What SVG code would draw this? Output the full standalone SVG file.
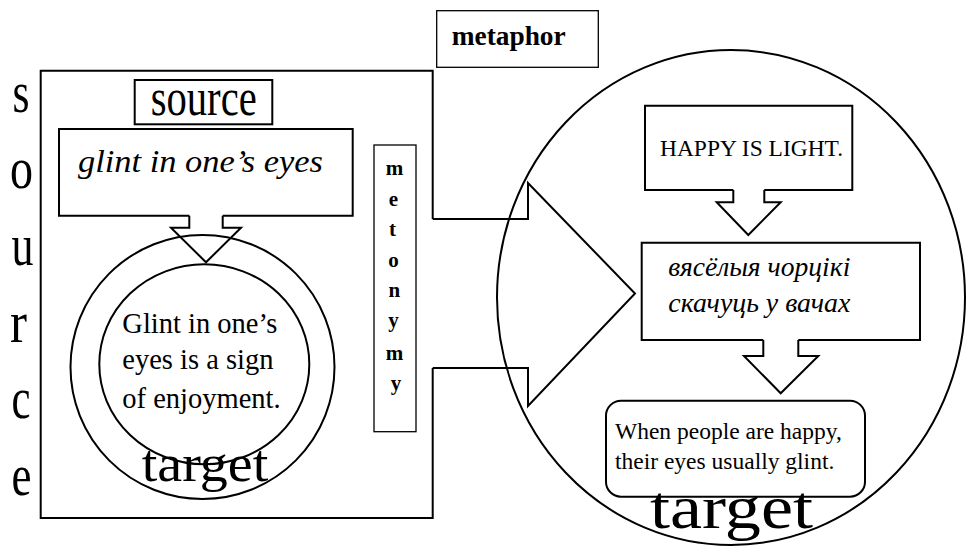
<svg xmlns="http://www.w3.org/2000/svg" width="966" height="546" viewBox="0 0 966 546" font-family="'Liberation Serif', 'Times New Roman', 'DejaVu Serif', serif">
<style>
.ln{fill:none;stroke:#000;stroke-width:2;stroke-linejoin:miter}
.thin{fill:none;stroke:#000;stroke-width:1.3}
text{font-family:'Liberation Serif','Times New Roman','DejaVu Serif',serif;fill:#000}
.b{font-weight:bold}
.i{font-style:italic}
</style>
<rect width="966" height="546" fill="#fff"/>
<g id="source-label">
<text font-size="60" text-anchor="middle" x="21" y="112" textLength="17" lengthAdjust="spacingAndGlyphs">s</text>
<text font-size="60" text-anchor="middle" x="21.5" y="188" textLength="23" lengthAdjust="spacingAndGlyphs">o</text>
<text font-size="60" text-anchor="middle" x="22.5" y="265" textLength="22" lengthAdjust="spacingAndGlyphs">u</text>
<text font-size="60" text-anchor="middle" x="18.5" y="342" textLength="17" lengthAdjust="spacingAndGlyphs">r</text>
<text font-size="60" text-anchor="middle" x="21" y="418" textLength="19" lengthAdjust="spacingAndGlyphs">c</text>
<text font-size="60" text-anchor="middle" x="21.5" y="495" textLength="20" lengthAdjust="spacingAndGlyphs">e</text>
</g>
<g id="source-domain">
<path class="ln" d="M432.7,219 V70.7 H40.7 V518 H432.7 V368"/>
</g>
<g id="source-title">
<rect class="ln" x="134.7" y="80" width="137.6" height="44.3"/>
<text font-size="52" x="150.7" y="115" textLength="106" lengthAdjust="spacingAndGlyphs">source</text>
</g>
<g id="glint-box">
<path class="ln" d="M189.3,215.7 H59 V129 H352.7 V215.7 H222.7"/>
<text class="i" font-size="32" x="78" y="172" textLength="245" lengthAdjust="spacingAndGlyphs">glint in one’s eyes</text>
</g>
<g id="target-left">
<circle class="ln" cx="202.5" cy="367" r="132"/>
<ellipse class="ln" cx="204.3" cy="364.3" rx="105" ry="100"/>
<text font-size="28.5">
<tspan x="122.3" y="333">Glint in one’s</tspan>
<tspan x="122.3" y="369">eyes is a sign</tspan>
<tspan x="122.3" y="408">of enjoyment.</tspan>
</text>
<text font-size="53" x="141.7" y="481" textLength="126.6" lengthAdjust="spacingAndGlyphs">target</text>
</g>
<g id="metonymy">
<rect class="thin" x="374" y="145" width="42" height="286.7"/>
<text class="b" font-size="21" text-anchor="middle">
<tspan x="397" y="175">m</tspan>
<tspan x="396" y="206">e</tspan>
<tspan x="395" y="236">t</tspan>
<tspan x="396" y="267">o</tspan>
<tspan x="397" y="297">n</tspan>
<tspan x="396" y="327">y</tspan>
<tspan x="397" y="360">m</tspan>
<tspan x="396" y="390">y</tspan>
</text>
</g>
<g id="metaphor">
<rect class="thin" x="436.7" y="10.7" width="161.6" height="56.6"/>
<text class="b" font-size="27" x="451.7" y="45" textLength="114" lengthAdjust="spacingAndGlyphs">metaphor</text>
</g>
<g id="happy-box">
<path class="ln" d="M733.3,190 H645 V105.7 H852.3 V190 H764.3"/>
<text font-size="23" x="660" y="156" textLength="183" lengthAdjust="spacingAndGlyphs">HAPPY IS LIGHT.</text>
</g>
<g id="belarusian-box">
<path class="ln" d="M763.3,340 H641.7 V242.7 H920 V340 H798.3"/>
<text class="i" font-size="27">
<tspan x="668.3" y="276" textLength="182" lengthAdjust="spacingAndGlyphs">вясёлыя чорцікі</tspan>
<tspan x="668.3" y="312" textLength="182" lengthAdjust="spacingAndGlyphs">скачуць у вачах</tspan>
</text>
</g>
<g id="when-box">
<rect class="ln" x="606" y="400.7" width="259" height="96" rx="15" ry="15"/>
<text font-size="23.5">
<tspan x="615" y="438.5">When people are happy,</tspan>
<tspan x="615" y="468.5">their eyes usually glint.</tspan>
</text>
</g>
<g id="target-domain">
<ellipse class="ln" cx="731" cy="297.5" rx="234" ry="247.5"/>
<text font-size="62" x="650" y="528" textLength="163" lengthAdjust="spacingAndGlyphs">target</text>
</g>
<g id="connectors">
<path class="ln" d="M189.3,215.7 V227.7 H171 L206,262.3 L241,227.7 H222.7 V215.7"/>
<path class="ln" d="M432.7,219 H528 V183 L635,293.5 L528,406 V368 H432.7"/>
<path class="ln" d="M733.3,190 V202.3 H716.7 L748.3,235 L780.7,202.3 H764.3 V190"/>
<path class="ln" d="M763.3,340 V356 H744 L780.7,393.3 L818.3,356 H798.3 V340"/>
</g>
</svg>
